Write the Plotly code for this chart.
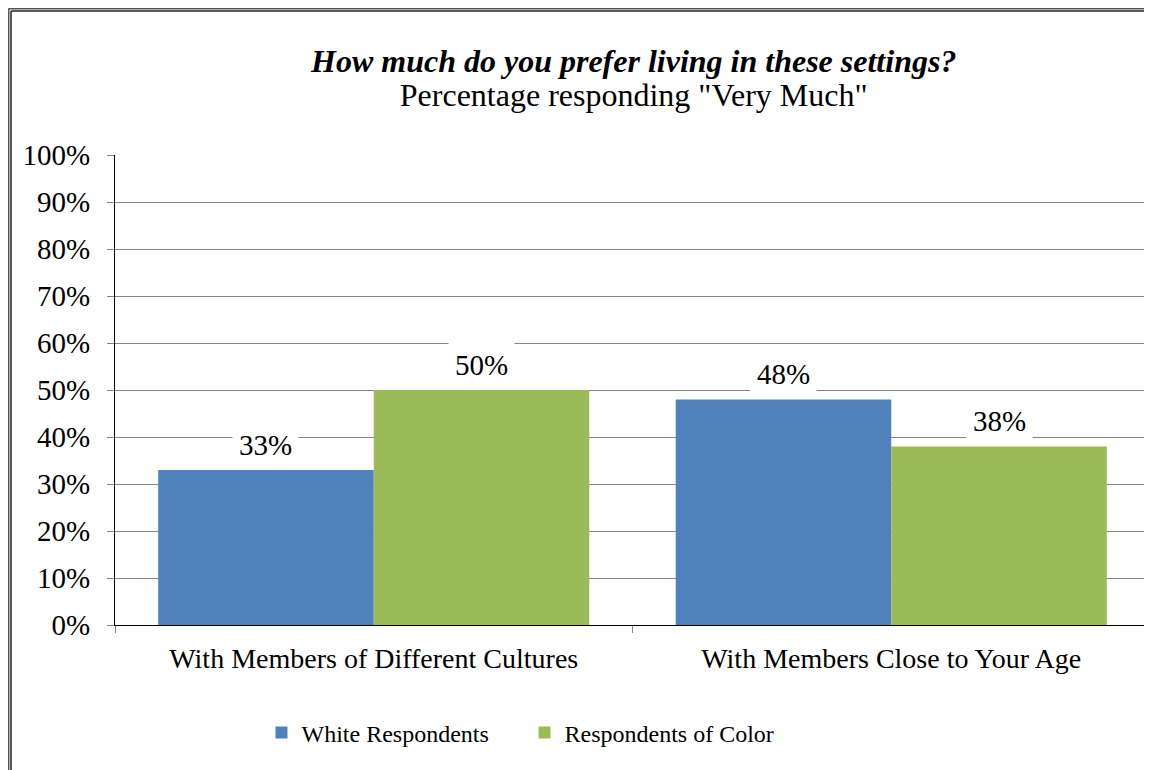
import plotly.graph_objects as go

categories = ["With Members of Different Cultures", "With Members Close to Your Age"]
series_names = ["White Respondents", "Respondents of Color"]
white_values = [33, 48]
color_values = [50, 38]
y_ticks = [0, 10, 20, 30, 40, 50, 60, 70, 80, 90, 100]
y_tick_labels = [f"{v}%" for v in y_ticks]
title_text = "How much do you prefer living in these settings?"
subtitle_text = 'Percentage responding "Very Much"'

FONT = "Liberation Serif"
FS_TICK = 29
FS_CAT = 28
FS_TITLE = 32
FS_LEG = 24
# the page body adds an 8px margin, so the figure is 8px smaller each way
W, H = 1144, 762
L, R, T, B = 107, 2, 147, 145
BARGAP = 0.167
plot_w = W - L - R
plot_h = H - T - B


def py(px_from_top):
    return 1 + (T - px_from_top) / plot_h


def px(px_from_left):
    return (px_from_left - L) / plot_w


fig = go.Figure()
fig.add_trace(go.Bar(x=categories, y=white_values, name=series_names[0],
                     marker=dict(color="#4F81BD", line=dict(width=0))))
fig.add_trace(go.Bar(x=categories, y=color_values, name=series_names[1],
                     marker=dict(color="#9BBB59", line=dict(width=0))))

cat_w = plot_w / len(categories)
bar_w = cat_w * (1 - BARGAP) / 2
for vals, sign in ((white_values, -1), (color_values, 1)):
    for c, v in zip(categories, vals):
        fig.add_annotation(x=c, y=v, xref="x", yref="y", text=f"{v}%",
                           showarrow=False, xshift=sign * bar_w / 2, yanchor="middle",
                           yshift=25, bgcolor="white", borderpad=6,
                           font=dict(family=FONT, size=FS_TICK, color="black"))

fig.add_annotation(
    x=0.5, xref="paper", yref="paper", y=py(70.5), yanchor="middle",
    text=(f'<span style="font-size:{FS_TITLE}px"><b><i>{title_text}</i></b></span><br>'
          f'<span style="font-size:{FS_TITLE}px">{subtitle_text}</span>'),
    showarrow=False, font=dict(family=FONT, size=26, color="black"))

# double frame (left and top edges; right and bottom lie outside the picture)
for off, w, col in ((0.5, 2, "#555555"), (3, 1.5, "#222222")):
    fig.add_shape(type="line", xref="paper", yref="paper",
                  x0=px(off), x1=px(off), y0=py(off), y1=py(H + 20),
                  line=dict(color=col, width=w))
    fig.add_shape(type="line", xref="paper", yref="paper",
                  x0=px(off), x1=px(W + 20), y0=py(off), y1=py(off),
                  line=dict(color=col, width=w))

fig.update_layout(
    width=W, height=H,
    margin=dict(l=L, r=R, t=T, b=B),
    paper_bgcolor="white", plot_bgcolor="white",
    barmode="group", bargap=BARGAP, bargroupgap=0,
    font=dict(family=FONT, size=FS_TICK, color="black"),
    showlegend=True,
    legend=dict(orientation="h", x=px(253.5), xanchor="left", y=py(725), yanchor="middle",
                font=dict(family=FONT, size=FS_LEG), traceorder="normal",
                entrywidth=218, entrywidthmode="pixels"),
    xaxis=dict(showline=True, linecolor="black", linewidth=1, ticks="outside",
               tickson="boundaries", ticklen=7, tickcolor="#868686",
               tickfont=dict(family=FONT, size=FS_CAT), showgrid=False, fixedrange=True,
               ticklabelstandoff=8),
    yaxis=dict(range=[0, 100], tickvals=y_ticks, ticktext=y_tick_labels,
               showline=True, linecolor="black", linewidth=1, ticks="outside",
               ticklen=7, tickcolor="#868686", showgrid=True, gridcolor="#868686",
               gridwidth=1, zeroline=False, ticklabelstandoff=11,
               tickfont=dict(family=FONT, size=FS_TICK)),
)
fig.write_html("out.html")
